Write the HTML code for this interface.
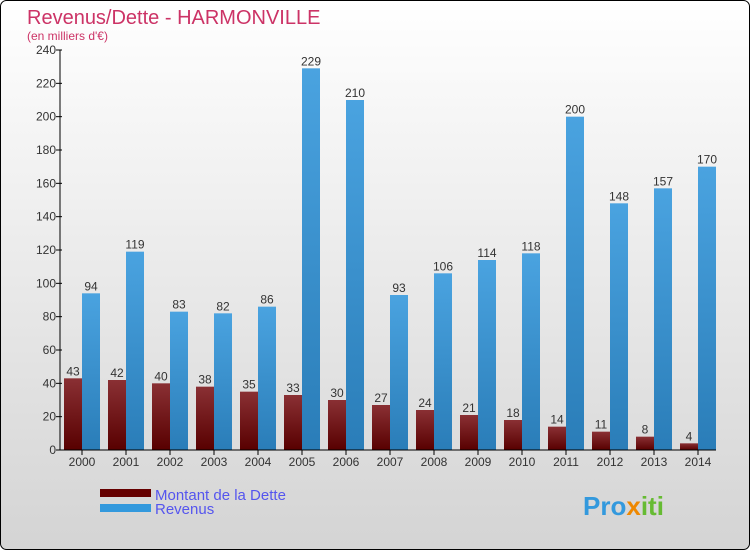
<!DOCTYPE html>
<html><head><meta charset="utf-8"><style>
body{margin:0;}
svg{display:block;font-family:"Liberation Sans",sans-serif;}
</style></head><body>
<svg id="c" width="750" height="550">
<defs>
<linearGradient id="bg" x1="0" y1="0" x2="0" y2="1"><stop offset="0" stop-color="#ffffff"/><stop offset="1" stop-color="#d4d4d4"/></linearGradient>
<linearGradient id="gd" x1="0" y1="0" x2="0" y2="1"><stop offset="0" stop-color="#8a3034"/><stop offset="1" stop-color="#580000"/></linearGradient>
<linearGradient id="gr" x1="0" y1="0" x2="0" y2="1"><stop offset="0" stop-color="#4aa3e0"/><stop offset="1" stop-color="#2a7db8"/></linearGradient>
</defs>
<rect x="0.5" y="0.5" width="749" height="549" rx="6" fill="url(#bg)" stroke="#000"/>
<text x="27" y="24" font-size="20" fill="#cc3366">Revenus/Dette - HARMONVILLE</text>
<text x="27" y="40" font-size="12" fill="#cc3366">(en milliers d'€)</text>
<g id="plot"></g>
<g>
<rect x="100" y="489" width="51" height="8" fill="#660000"/>
<text x="155" y="500" font-size="15" fill="#5555ee">Montant de la Dette</text>
<rect x="100" y="504" width="51" height="8" fill="#3399dd"/>
<text x="155" y="514" font-size="15" fill="#5555ee">Revenus</text>
</g>
<text x="583" y="515" font-size="26" font-weight="bold" fill="#3399dd">Pro<tspan fill="#ee8800">x</tspan><tspan fill="#66bb33">iti</tspan></text>
</svg>
<script>
const years=["2000","2001","2002","2003","2004","2005","2006","2007","2008","2009","2010","2011","2012","2013","2014"];
const dette=[43,42,40,38,35,33,30,27,24,21,18,14,11,8,4];
const revenus=[94,119,83,82,86,229,210,93,106,114,118,200,148,157,170];
const yTicks=[0,20,40,60,80,100,120,140,160,180,200,220,240];
const NS="http://www.w3.org/2000/svg";
const g=document.getElementById('plot');
const y0=450,yTop=50,yMax=240;
function y(v){return y0-(v/yMax)*(y0-yTop);}
function xc(i){return 82+i*44;}
function mk(t,a,txt){const e=document.createElementNS(NS,t);for(const k in a)e.setAttribute(k,a[k]);if(txt!==undefined)e.textContent=txt;g.appendChild(e);return e;}
yTicks.forEach(v=>{
 const l=mk('line',{x1:56,x2:62,y1:y(v),y2:y(v),stroke:'#000'});
 
 
 const t=mk('text',{x:56,y:y(v)+4,'font-size':12,'text-anchor':'end',fill:'#333'},v);
 
 
});
years.forEach((yr,i)=>{
 const c=xc(i);
 const b1=mk('rect',{x:c-18,y:y(dette[i]),width:18,height:y0-y(dette[i]),fill:'url(#gd)'});
 
 
 const b2=mk('rect',{x:c,y:y(revenus[i]),width:18,height:y0-y(revenus[i]),fill:'url(#gr)'});
 
 
 const t1=mk('text',{x:c-9,y:y(dette[i])-3,'font-size':12,'text-anchor':'middle',fill:'#333'},dette[i]);
 
 
 const t2=mk('text',{x:c+9,y:y(revenus[i])-3,'font-size':12,'text-anchor':'middle',fill:'#333'},revenus[i]);
 
 
 const tk=mk('line',{x1:c,x2:c,y1:y0,y2:y0+5,stroke:'#000'});
 
 
 const xl=mk('text',{x:c,y:466,'font-size':12,'text-anchor':'middle',fill:'#333'},yr);
 
 
});
const ax=mk('line',{x1:60,x2:60,y1:yTop,y2:y0,stroke:'#000'});


const bx=mk('line',{x1:60,x2:716,y1:y0,y2:y0,stroke:'#000'});


</script>
</body></html>
